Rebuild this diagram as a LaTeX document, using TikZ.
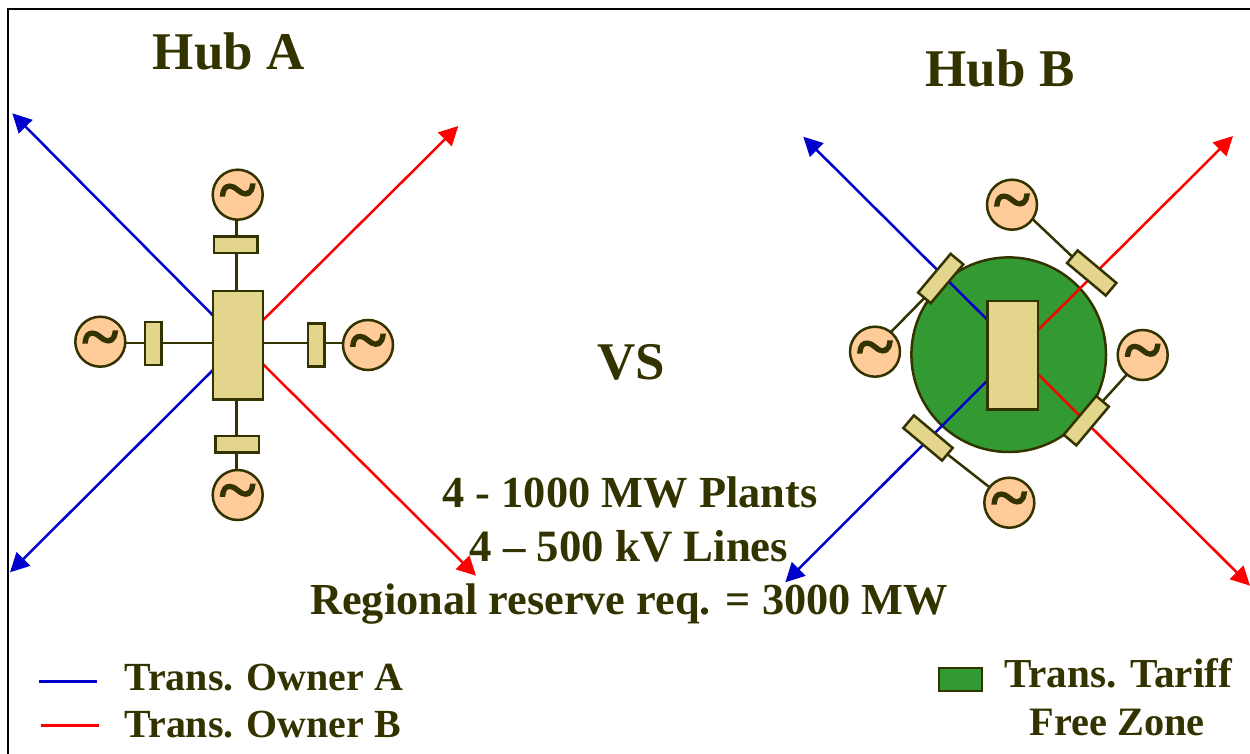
\documentclass[tikz,border=0pt]{standalone}
\usepackage{fontspec}
\setmainfont{Liberation Serif}
\newfontfamily\tildefont[FakeBold=3,FakeStretch=1.05]{Liberation Serif}
\newcommand{\gensym}{\raisebox{-17pt}[0pt][0pt]{\tildefont\char`~}}
\usetikzlibrary{arrows.meta}
\definecolor{ink}{HTML}{333300}
\definecolor{busfill}{HTML}{E3D58B}
\definecolor{genfill}{HTML}{FFCC99}
\definecolor{zonefill}{HTML}{339933}
\definecolor{ownerA}{HTML}{0000CC}
\definecolor{ownerB}{HTML}{FF0000}
\pgfdeclarelayer{under}
\pgfsetlayers{under,main}
\tikzset{
  hubbus/.style={draw=ink,fill=busfill,line width=2.5pt,inner sep=0pt,outer sep=0pt,minimum width=50pt,minimum height=108.3pt},
  breaker/.style={draw=ink,fill=busfill,line width=2.5pt,inner sep=0pt,outer sep=0pt,minimum width=16.5pt,minimum height=43.3pt},
  hbreaker/.style={draw=ink,fill=busfill,line width=2.5pt,inner sep=0pt,outer sep=0pt,minimum width=43.3pt,minimum height=16.5pt},
  tiltbreaker/.style={draw=ink,fill=busfill,line width=2.5pt,inner sep=0pt,outer sep=0pt,minimum width=50.6pt,minimum height=16.5pt},
  gen/.style={circle,draw=ink,fill=genfill,line width=2.5pt,inner sep=0pt,outer sep=0pt,minimum size=50pt,text=ink,font=\fontsize{66}{66}\selectfont},
  wire/.style={draw=ink,line width=2.5pt},
  lineA/.style={draw=ownerA,line width=2.5pt,-{Triangle[length=19pt,width=19pt]}},
  lineB/.style={draw=ownerB,line width=2.5pt,-{Triangle[length=19pt,width=19pt]}},
  keyA/.style={draw=ownerA,line width=2.5pt},
  keyB/.style={draw=ownerB,line width=2.5pt},
  title/.style={anchor=base,text=ink,inner sep=0pt,font=\fontsize{53}{60}\selectfont\bfseries},
  info/.style={anchor=base,text=ink,inner sep=0pt,font=\fontsize{44.4}{50}\selectfont\bfseries},
  keytext/.style={anchor=base,text=ink,inner sep=0pt,font=\fontsize{39.9}{46}\selectfont\bfseries}
}
\begin{document}
\begin{tikzpicture}[x=1pt,y=-1pt]
\useasboundingbox (0,0) rectangle (1250,754);
\coordinate (fa) at (8,754);
\coordinate (fb) at (8,9);
\coordinate (fc) at (1250,9);
\draw[black,line width=2.5pt] (fa) -- (fb) -- (fc);

% Titles and texts
\node[title] (titleA) at (228.7,70) {Hub A};
\node[title] (titleB) at (1000,87) {Hub B};
\node[title] (vs) at (631,379) {VS};
\node[info] (t1) at (630,507) {4 - 1000 MW Plants};
\node[info,font=\fontsize{44.8}{50}\selectfont\bfseries] (t2) at (629,561) {4 – 500 kV Lines};
\node[info,font=\fontsize{44.3}{50}\selectfont\bfseries] (t3) at (629,614) {Regional reserve req. = 3000 MW};

% Hub A
\node[hubbus] (hubA) at (238,345.2) {};
\node[gen] (gAn) at (237.7,194.7) {\gensym};
\node[gen] (gAw) at (100.3,341.7) {\gensym};
\node[gen] (gAe) at (368,345) {\gensym};
\node[gen] (gAs) at (237.7,495) {\gensym};
\node[hbreaker] (bAn) at (235.7,244.8) {};
\node[hbreaker] (bAs) at (237.3,444.2) {};
\node[breaker] (bAw) at (153.2,343.5) {};
\node[breaker] (bAe) at (316.3,345) {};
\coordinate (Avert) at (236.3,343);
\coordinate (tAul) at (12.3,113.3);
\coordinate (tAll) at (10,572.3);
\coordinate (tAur) at (458.3,126);
\coordinate (tAlr) at (476,575.7);

% Hub B
\node[hubbus,minimum width=50.3pt] (hubB) at (1012.85,355.15) {};
\node[gen] (gBn) at (1012,204.7) {\gensym};
\node[gen] (gBw) at (875,351.7) {\gensym};
\node[gen] (gBe) at (1142.7,355) {\gensym};
\node[gen] (gBs) at (1009.3,502.7) {\gensym};
\node[tiltbreaker,rotate=50] (bBul) at (940.7,278.5) {};
\node[tiltbreaker,rotate=-40] (bBur) at (1091.7,273) {};
\node[tiltbreaker,rotate=50] (bBlr) at (1086.3,420.7) {};
\node[tiltbreaker,rotate=-40] (bBll) at (928,438) {};
\coordinate (tBul) at (803.3,136.7);
\coordinate (tBll) at (785.3,582.3);
\coordinate (tBur) at (1233,136);
\coordinate (tBlr) at (1250,585.7);

\begin{pgfonlayer}{under}
  \node[circle,draw=ink,fill=zonefill,line width=2.5pt,inner sep=0pt,outer sep=0pt,minimum size=194.6pt] (zone) at (1008.7,354.7) {};
  % Hub A connectors
  \draw[wire] (Avert |- gAn.south) -- (Avert |- hubA.north);
  \draw[wire] (Avert |- hubA.south) -- (Avert |- gAs.north);
  \draw[wire] (gAw.east |- Avert) -- (hubA.west |- Avert);
  \draw[wire] (hubA.east |- Avert) -- (gAe.west |- Avert);
  \draw[lineA] ([yshift=29.7pt]hubA.west) -- (tAul);
  \draw[lineA] ([yshift=-24.8pt]hubA.west) -- (tAll);
  \draw[lineB] ([yshift=25pt]hubA.east) -- (tAur);
  \draw[lineB] ([yshift=-19pt]hubA.east) -- (tAlr);
  % Hub B connectors
  \draw[lineA] ([yshift=35pt]hubB.west) -- (tBul);
  \draw[lineA] ([yshift=-25pt]hubB.west) -- (tBll);
  \draw[lineB] ([yshift=25pt]hubB.east) -- (tBur);
  \draw[lineB] ([yshift=-19pt]hubB.east) -- (tBlr);
  \draw[wire] (gBn.-35) -- (bBur.west);
  \draw[wire] (gBw.51) -- (bBul.west);
  \draw[wire] (gBe.231) -- (bBlr.east);
  \draw[wire] (gBs.142) -- (bBll.east);
\end{pgfonlayer}

% Legend
\coordinate (kA1) at (39.3,681.7);
\coordinate (kA2) at (97.3,681.7);
\coordinate (kB1) at (41.3,725.3);
\coordinate (kB2) at (99.3,725.3);
\draw[keyA] (kA1) -- (kA2);
\draw[keyB] (kB1) -- (kB2);
\node[keytext] (lA) at (263.8,690) {Trans. Owner A};
\node[keytext] (lB) at (262.8,737.3) {Trans. Owner B};
\node[draw=ink,fill=zonefill,line width=2.5pt,inner sep=0pt,outer sep=0pt,minimum width=43pt,minimum height=23.4pt] (swatch) at (960.3,679.5) {};
\node[keytext,font=\fontsize{41.2}{46}\selectfont\bfseries] (lZ1) at (1118,687.7) {Trans. Tariff};
\node[keytext,font=\fontsize{40.3}{46}\selectfont\bfseries] (lZ2) at (1117,735) {Free Zone};
\end{tikzpicture}
\end{document}
